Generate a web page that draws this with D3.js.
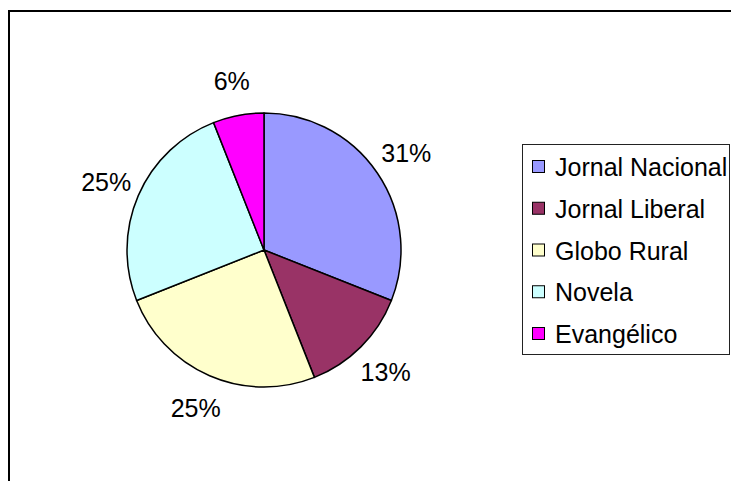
<!DOCTYPE html>
<html>
<head>
<meta charset="utf-8">
<script src="https://cdn.jsdelivr.net/npm/d3@7"></script>
<style>
  body { margin: 0; background: #fff; }
  svg { display: block; font-family: "Liberation Sans", Arial, sans-serif; }
</style>
</head>
<body>
<svg id="chart" width="731" height="481"></svg>
<script>
const categories = ["Jornal Nacional", "Jornal Liberal", "Globo Rural", "Novela", "Evangélico"];
const values = [31, 13, 25, 25, 6];
const colors = ["#9999FF", "#993366", "#FFFFCC", "#CCFFFF", "#FF00FF"];

const cx = 264, cy = 250, radius = 137;
const labelRadius = 172;

let svg = d3.select("#chart");

// outer chart frame (runs off the right and bottom edges)
svg.append("rect")
  .attr("x", 9)
  .attr("y", 11)
  .attr("width", 760)
  .attr("height", 500)
  .attr("fill", "none")
  .attr("stroke", "#000")
  .attr("stroke-width", 2);

const data = categories.map((c, i) => ({ name: c, value: values[i], color: colors[i] }));

const pie = d3.pie().sort(null).value(d => d.value);
const arcs = pie(data);
const arc = d3.arc().innerRadius(0).outerRadius(radius);
const total = d3.sum(values);

let g = svg.append("g").attr("transform", "translate(" + cx + "," + cy + ")");

g.selectAll("path")
  .data(arcs)
  .enter()
  .append("path")
  .attr("d", arc)
  .attr("fill", d => d.data.color)
  .attr("stroke", "#000")
  .attr("stroke-width", 1.5)
  .attr("stroke-linejoin", "round");

g.selectAll("text.pct")
  .data(arcs)
  .enter()
  .append("text")
  .attr("class", "pct")
  .attr("x", d => labelRadius * Math.sin((d.startAngle + d.endAngle) / 2))
  .attr("y", d => -labelRadius * Math.cos((d.startAngle + d.endAngle) / 2))
  .attr("text-anchor", "middle")
  .attr("dominant-baseline", "central")
  .style("font-size", "25px")
  .attr("fill", "#000")
  .text(d => Math.round(d.data.value / total * 100) + "%");

// legend
const legend = svg.append("g");
legend.append("rect")
  .attr("x", 522.5)
  .attr("y", 144.5)
  .attr("width", 207)
  .attr("height", 210)
  .attr("fill", "#fff")
  .attr("stroke", "#222")
  .attr("stroke-width", 1);

const rowY = d3.scalePoint().domain(categories).range([167, 334]);

const item = legend.selectAll("g.item")
  .data(data)
  .enter()
  .append("g")
  .attr("class", "item")
  .attr("transform", d => "translate(0," + rowY(d.name) + ")");

item.append("rect")
  .attr("x", 532.5)
  .attr("y", -6.5)
  .attr("width", 12)
  .attr("height", 12)
  .attr("fill", d => d.color)
  .attr("stroke", "#000")
  .attr("stroke-width", 1);

item.append("text")
  .attr("x", 555)
  .attr("y", 0)
  .attr("dominant-baseline", "central")
  .style("font-size", "25px")
  .attr("fill", "#000")
  .text(d => d.name);
</script>
</body>
</html>
